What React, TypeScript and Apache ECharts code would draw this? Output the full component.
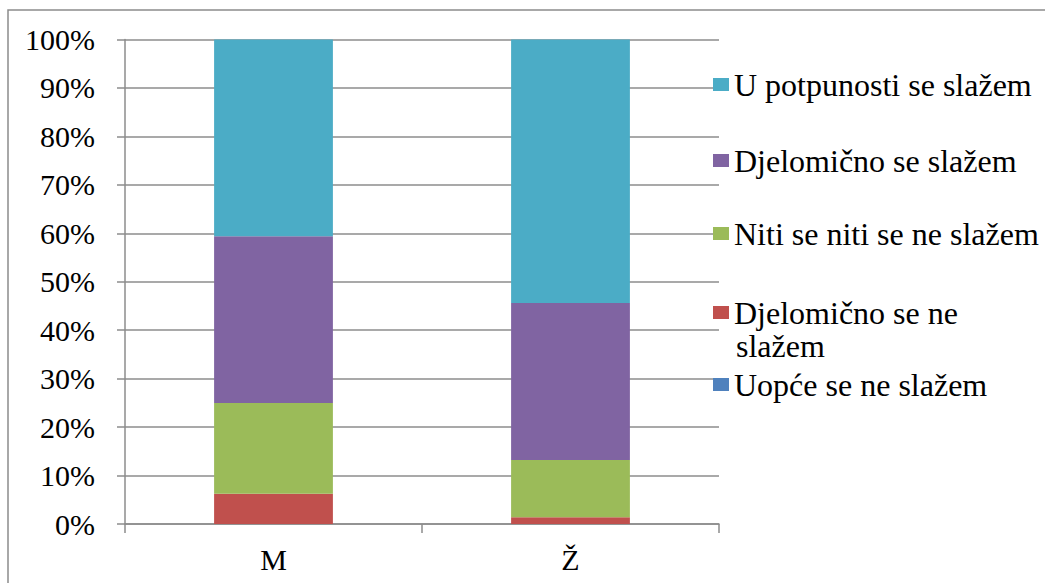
import React, { useEffect, useRef } from "react";
import * as echarts from "echarts";

const categories = ["M", "Ž"];
const seriesNames = [
  "Uopće se ne slažem",
  "Djelomično se ne slažem",
  "Niti se niti se ne slažem",
  "Djelomično se slažem",
  "U potpunosti se slažem",
];
const uopce = [0, 0];
const djelomicnoNe = [6.25, 1.4];
const niti = [18.75, 11.8];
const djelomicno = [34.4, 32.4];
const potpunosti = [40.6, 54.4];
const yTicks = [0, 10, 20, 30, 40, 50, 60, 70, 80, 90, 100];

const colors = ["#4F81BD", "#C0504D", "#9BBB59", "#8064A2", "#4BACC6"];
const FONT = "Liberation Serif";

export default function App() {
  const ref = useRef<HTMLDivElement>(null);
  useEffect(() => {
    if (!ref.current) return;
    const chart = echarts.init(ref.current, undefined, { renderer: "svg" });
    const values = [uopce, djelomicnoNe, niti, djelomicno, potpunosti];
    const legendCenters = [84.5, 160.5, 233.5, 312.5, 384.5];
    const legends = [4, 3, 2, 1, 0].map((si, i) => ({
      show: true,
      orient: "vertical",
      left: 713,
      top: legendCenters[i] - 16,
      padding: 0,
      icon: "rect",
      itemWidth: 16,
      itemHeight: 13,
      data: [seriesNames[si]],
      formatter: si === 1 ? "Djelomično se ne" : "{name}",
      textStyle: {
        fontFamily: FONT,
        fontSize: 32,
        color: "#000",
        lineHeight: 32,
      },
      selectedMode: false,
    }));
    chart.setOption({
      animation: false,
      color: colors,
      grid: { left: 125, right: 326, top: 39.5, bottom: 59, containLabel: false },
      legend: legends,
      xAxis: {
        type: "category",
        data: categories,
        axisLine: { show: true, lineStyle: { color: "#8c8c8c", width: 1.5 } },
        axisTick: { show: true, length: 9, lineStyle: { color: "#8c8c8c", width: 1.5 } },
        axisLabel: { fontFamily: FONT, fontSize: 30, color: "#000", margin: 20 },
      },
      yAxis: {
        type: "value",
        min: 0,
        max: 100,
        interval: 10,
        axisLine: { show: true, lineStyle: { color: "#8c8c8c", width: 1.5 } },
        axisTick: { show: true, length: 8, lineStyle: { color: "#8c8c8c", width: 1.5 } },
        splitLine: { show: true, lineStyle: { color: "#8c8c8c", width: 1.5 } },
        axisLabel: {
          fontFamily: FONT,
          fontSize: 30,
          color: "#000",
          margin: 30,
          formatter: (v: number) => (yTicks.includes(v) ? v + "%" : ""),
        },
      },
      series: seriesNames.map((name, i) => ({
        name,
        type: "bar",
        stack: "total",
        barCategoryGap: "60%",
        data: values[i],
        itemStyle: { color: colors[i] },
      })),
      graphic: [
        {
          type: "polyline",
          shape: { points: [[8, 600], [8, 10], [1060, 10]] },
          style: { stroke: "#8c8c8c", lineWidth: 1.5, fill: null },
          silent: true,
        },
        {
          type: "text",
          left: 736,
          top: 330,
          style: { text: "slažem", fontFamily: FONT, fontSize: 32, fill: "#000" },
          silent: true,
        },
      ],
    });
    return () => chart.dispose();
  }, []);
  return (
    <div
      ref={ref}
      style={{ position: "fixed", left: 0, top: 0, width: 1045, height: 583, background: "#fff" }}
    />
  );
}
